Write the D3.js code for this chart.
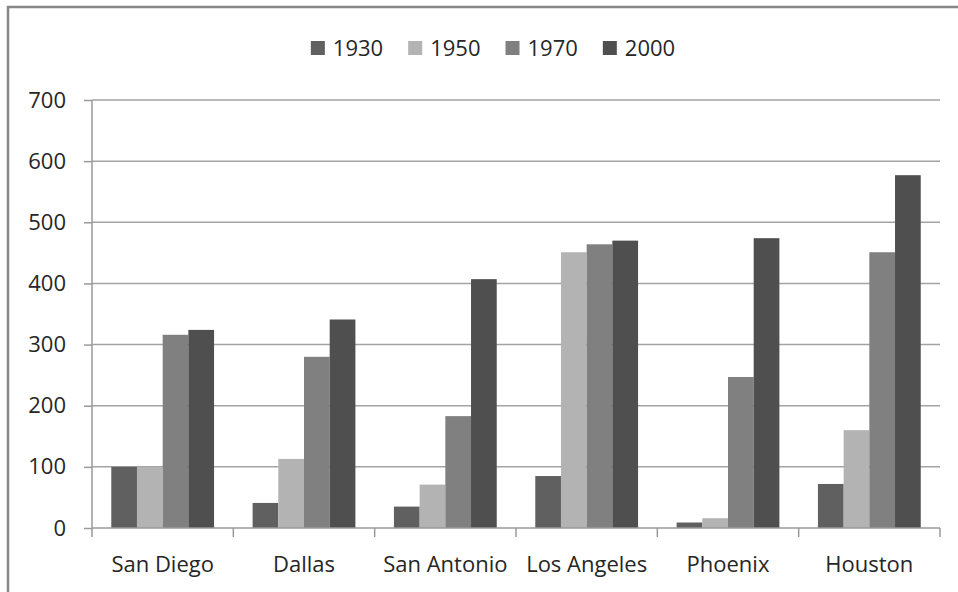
<!DOCTYPE html>
<html>
<head>
<meta charset="utf-8">
<script src="https://cdn.jsdelivr.net/npm/d3@7"></script>
<style>
  body { margin: 0; background: #fff; }
  svg text { font-family: "Open Sans", sans-serif; fill: #262626; }
</style>
</head>
<body>
<div id="chart"></div>
<script>
// data
var cities = ["San Diego", "Dallas", "San Antonio", "Los Angeles", "Phoenix", "Houston"];
var years = ["1930", "1950", "1970", "2000"];
var v1930 = [100, 41, 35, 85, 9, 72];
var v1950 = [100, 113, 71, 451, 16, 160];
var v1970 = [316, 280, 183, 464, 247, 451];
var v2000 = [324, 341, 407, 470, 474, 577];
var yTicks = [0, 100, 200, 300, 400, 500, 600, 700];
var colors = ["#606060", "#b3b3b3", "#808080", "#4f4f4f"];

var series = [v1930, v1950, v1970, v2000];

var W = 958, H = 592;
var margin = {top: 100, right: 18, bottom: 64, left: 92},
    width = W - margin.left - margin.right,
    height = H - margin.top - margin.bottom;

var root = d3.select("#chart")
  .append("svg")
    .attr("width", W)
    .attr("height", H);

// chart frame (cut off at right and bottom)
root.append("rect")
  .attr("x", 8)
  .attr("y", 7)
  .attr("width", W + 20)
  .attr("height", H + 20)
  .attr("fill", "none")
  .attr("stroke", "#878787")
  .attr("stroke-width", 2.5);

var svg = root.append("g")
  .attr("transform", "translate(" + margin.left + "," + margin.top + ")");

var x0 = d3.scaleBand()
  .domain(cities)
  .range([0, width])
  .paddingInner(0)
  .paddingOuter(0);

// gap width 150% of one bar
var barW = x0.bandwidth() / (years.length + 1.5);
var x1 = d3.scaleBand()
  .domain(years)
  .range([barW * 0.75, barW * 0.75 + barW * years.length]);

var y = d3.scaleLinear()
  .domain([0, 700])
  .range([height, 0]);

// gridlines
svg.append("g")
  .selectAll("line")
  .data(yTicks.slice(1))
  .enter()
  .append("line")
    .attr("x1", 0)
    .attr("x2", width)
    .attr("y1", function(d) { return y(d); })
    .attr("y2", function(d) { return y(d); })
    .attr("stroke", "#a3a3a3")
    .attr("stroke-width", 1.5);

// bars
var groups = svg.append("g")
  .selectAll("g")
  .data(cities)
  .enter()
  .append("g")
    .attr("transform", function(d) { return "translate(" + x0(d) + ",0)"; });

groups.selectAll("rect")
  .data(function(c, i) {
    return years.map(function(yr, j) { return {year: yr, value: series[j][i], k: j}; });
  })
  .enter()
  .append("rect")
    .attr("x", function(d) { return x1(d.year); })
    .attr("width", x1.bandwidth())
    .attr("y", function(d) { return y(d.value); })
    .attr("height", function(d) { return y(0) - y(d.value); })
    .attr("fill", function(d) { return colors[d.k]; });

// y axis
var yAxis = svg.append("g")
  .call(d3.axisLeft(y).tickValues(yTicks).tickSize(8).tickPadding(18));
yAxis.select(".domain").attr("stroke", "#9a9a9a").attr("stroke-width", 1.5)
  .attr("d", "M0," + y(0) + "V" + y(700));
yAxis.selectAll(".tick line").attr("stroke", "#9a9a9a").attr("stroke-width", 1.5);
yAxis.selectAll("text").style("font-size", "22px").attr("fill", "#262626");

// x axis
var tickPos = d3.range(cities.length + 1).map(function(i) { return i * x0.step(); });
var xAxis = svg.append("g")
  .attr("transform", "translate(0," + height + ")");
xAxis.append("line")
  .attr("x1", 0).attr("x2", width)
  .attr("stroke", "#9a9a9a").attr("stroke-width", 1.5);
xAxis.selectAll(".xt")
  .data(tickPos)
  .enter()
  .append("line")
    .attr("class", "xt")
    .attr("x1", function(d) { return d; })
    .attr("x2", function(d) { return d; })
    .attr("y1", 0)
    .attr("y2", 9)
    .attr("stroke", "#9a9a9a")
    .attr("stroke-width", 1.5);
xAxis.selectAll(".xl")
  .data(cities)
  .enter()
  .append("text")
    .attr("class", "xl")
    .attr("x", function(d) { return x0(d) + x0.bandwidth() / 2; })
    .attr("y", 44)
    .attr("text-anchor", "middle")
    .style("font-size", "22px")
    .text(function(d) { return d; });

// legend
var legend = root.append("g");
var items = legend.selectAll("g")
  .data(years)
  .enter()
  .append("g");
items.append("rect")
  .attr("width", 14)
  .attr("height", 14)
  .attr("y", 41)
  .attr("fill", function(d, i) { return colors[i]; });
items.append("text")
  .attr("x", 22)
  .attr("y", 56)
  .style("font-size", "22px")
  .text(function(d) { return d; });

var cx = 0;
items.each(function() {
  var g = d3.select(this);
  var tw = g.select("text").node().getComputedTextLength();
  g.attr("transform", "translate(" + cx + ",0)");
  cx += 22 + tw + 25;
});
var total = cx - 25;
legend.attr("transform", "translate(" + (493 - total / 2) + ",0)");
</script>
</body>
</html>
